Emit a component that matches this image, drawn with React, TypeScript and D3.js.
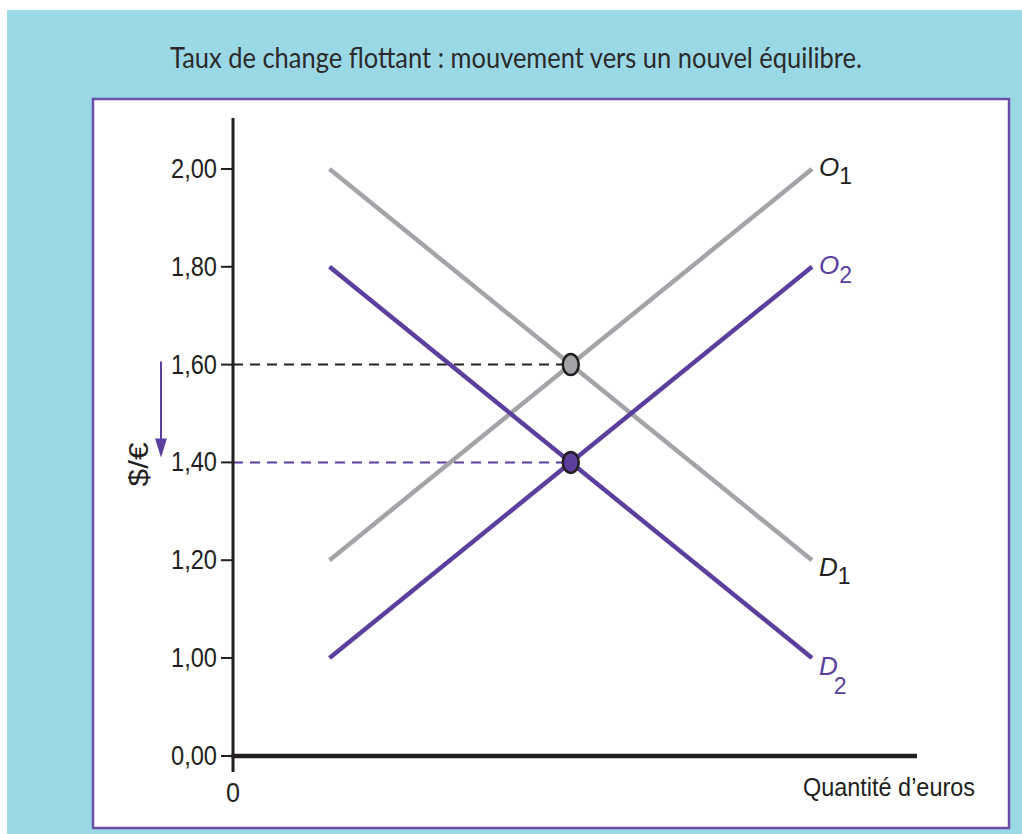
import React from "react";
import * as d3 from "d3";

const title = "Taux de change flottant : mouvement vers un nouvel équilibre.";
const priceTicks = [0, 1, 1.2, 1.4, 1.6, 1.8, 2.0];
const priceTickLabels = ["0,00", "1,00", "1,20", "1,40", "1,60", "1,80", "2,00"];
const quantities = [1, 6];
const supply1 = [1.2, 2.0];
const demand1 = [2.0, 1.2];
const supply2 = [1.0, 1.8];
const demand2 = [1.8, 1.0];
const eqQuantities = [3.5, 3.5];
const eqPrices = [1.6, 1.4];
const yAxisLabel = "$/€";
const xAxisLabel = "Quantité d’euros";
const originLabel = "0";

const GRAY = "#a2a4a7";
const PURPLE = "#5b3f9c";
const INK = "#231f20";

export default function App() {
  const x = d3.scaleLinear().domain([0, 6]).range([233, 812]);
  // broken axis: 0,00 is placed one step below 1,00
  const y = d3.scaleLinear().domain([0, 1, 2]).range([756, 658, 169]);
  const line = d3
    .line<[number, number]>()
    .x((d) => x(d[0]))
    .y((d) => y(d[1]));
  const series = [
    { vals: supply1, color: GRAY, name: "O", sub: "1", dx: 7, dy: 7, sdx: 0, sdy: 8, subColor: INK },
    { vals: demand1, color: GRAY, name: "D", sub: "1", dx: 7, dy: 16, sdx: 0, sdy: 8, subColor: INK },
    { vals: supply2, color: PURPLE, name: "O", sub: "2", dx: 7, dy: 7, sdx: 0, sdy: 9, subColor: PURPLE },
    { vals: demand2, color: PURPLE, name: "D", sub: "2", dx: 7, dy: 17, sdx: -4, sdy: 19, subColor: PURPLE },
  ];
  const eqColors = [GRAY, PURPLE];
  const dashColors = [INK, PURPLE];
  const font = "'Liberation Sans', Arial, sans-serif";

  return (
    <svg
      width={1022}
      height={834}
      style={{ position: "absolute", left: 0, top: 0, background: "#fff" }}
    >
      <rect x={7} y={10} width={1015} height={824} fill="#9bd8e5" />
      <text
        x={516}
        y={68}
        textAnchor="middle"
        fontFamily="Lato, 'Open Sans', sans-serif"
        fontSize={29}
        fill="#2b2b2b"
        textLength={692}
        lengthAdjust="spacingAndGlyphs"
      >
        {title}
      </text>
      <rect x={93} y={99} width={916} height={729} fill="#fff" stroke="#6a4fa8" strokeWidth={2.5} />

      {/* dashed guides */}
      {eqPrices.map((p, i) => (
        <line
          key={"dash" + i}
          x1={x(0)}
          x2={x(eqQuantities[i]) - 8}
          y1={y(p)}
          y2={y(p)}
          stroke={dashColors[i]}
          strokeWidth={2}
          strokeDasharray="10 7"
        />
      ))}

      {/* curves */}
      {series.map((s, i) => (
        <path
          key={"c" + i}
          d={line(quantities.map((q, j) => [q, s.vals[j]]) as [number, number][]) || ""}
          fill="none"
          stroke={s.color}
          strokeWidth={4.5}
        />
      ))}

      {/* curve labels */}
      {series.map((s, i) => {
        const ex = x(quantities[quantities.length - 1]);
        const ey = y(s.vals[s.vals.length - 1]);
        return (
          <text key={"l" + i} x={ex + s.dx} y={ey + s.dy} fontFamily={font} fontSize={26} fill={s.color === GRAY ? INK : PURPLE}>
            <tspan fontStyle="italic">{s.name}</tspan>
            <tspan fontSize={23} dx={s.sdx} dy={s.sdy} fill={s.subColor}>
              {s.sub}
            </tspan>
          </text>
        );
      })}

      {/* equilibrium points */}
      {eqPrices.map((p, i) => (
        <ellipse
          key={"e" + i}
          cx={x(eqQuantities[i])}
          cy={y(p)}
          rx={8}
          ry={10.5}
          fill={eqColors[i]}
          stroke={INK}
          strokeWidth={2.5}
        />
      ))}

      {/* axes */}
      <line x1={233} x2={233} y1={118} y2={772} stroke={INK} strokeWidth={3} />
      <line x1={231.5} x2={917} y1={y(0)} y2={y(0)} stroke={INK} strokeWidth={4.5} />
      {priceTicks.map((t, i) => (
        <g key={"t" + i}>
          <line x1={221} x2={233} y1={y(t)} y2={y(t)} stroke={INK} strokeWidth={2} />
          <text
            x={217}
            y={y(t) + 9}
            textAnchor="end"
            fontFamily={font}
            fontSize={28}
            fill={INK}
            textLength={46}
            lengthAdjust="spacingAndGlyphs"
          >
            {priceTickLabels[i]}
          </text>
        </g>
      ))}
      <text x={233} y={802} textAnchor="middle" fontFamily={font} fontSize={28} fill={INK} textLength={14} lengthAdjust="spacingAndGlyphs">
        {originLabel}
      </text>
      <text x={975} y={796} textAnchor="end" fontFamily={font} fontSize={26} fill={INK} textLength={172} lengthAdjust="spacingAndGlyphs">
        {xAxisLabel}
      </text>
      <text
        transform={`translate(148, ${y(1.4) + 2}) rotate(-90)`}
        textAnchor="middle"
        fontFamily={font}
        fontSize={27}
        fill={INK}
        textLength={44}
        lengthAdjust="spacingAndGlyphs"
      >
        {yAxisLabel}
      </text>

      {/* shift arrow */}
      <line x1={161} x2={161} y1={y(1.6) - 3} y2={y(1.4) - 22} stroke={PURPLE} strokeWidth={2} />
      <path
        d={`M155,${y(1.4) - 24} L167,${y(1.4) - 24} L161,${y(1.4) - 5} Z`}
        fill={PURPLE}
      />
    </svg>
  );
}
